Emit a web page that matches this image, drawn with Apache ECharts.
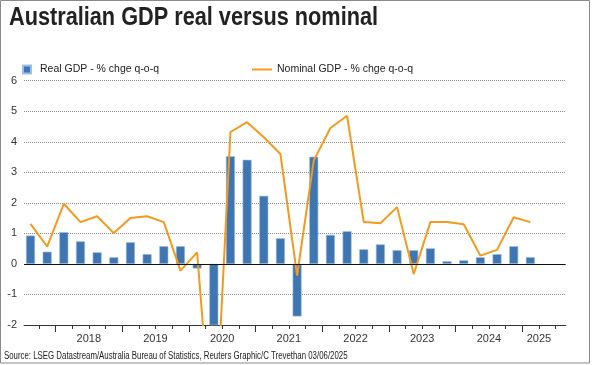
<!DOCTYPE html>
<html><head><meta charset="utf-8">
<script src="https://cdn.jsdelivr.net/npm/echarts@6/dist/echarts.min.js"></script>
<style>html,body{margin:0;padding:0;background:#fff}#c{width:595px;height:365px}</style>
</head><body><div id="c"></div>
<script>
// Quarterly categories (bars / line points)
const quarters = ['2017 Q3','2017 Q4','2018 Q1','2018 Q2','2018 Q3','2018 Q4','2019 Q1','2019 Q2','2019 Q3','2019 Q4',
  '2020 Q1','2020 Q2','2020 Q3','2020 Q4','2021 Q1','2021 Q2','2021 Q3','2021 Q4','2022 Q1','2022 Q2','2022 Q3','2022 Q4',
  '2023 Q1','2023 Q2','2023 Q3','2023 Q4','2024 Q1','2024 Q2','2024 Q3','2024 Q4','2025 Q1'];
// Real GDP - % chge q-o-q
const realGDP = [0.93,0.40,1.04,0.74,0.38,0.22,0.71,0.32,0.58,0.58,-0.15,-7.0,3.53,3.41,2.23,0.84,-1.72,3.51,0.95,1.07,0.48,0.64,0.45,0.45,0.51,0.09,0.12,0.22,0.32,0.58,0.22];
// Nominal GDP - % chge q-o-q
const nominalGDP = [1.31,0.57,1.97,1.37,1.56,1.01,1.50,1.56,1.37,-0.22,0.38,-6.5,4.32,4.64,4.15,3.60,-0.38,3.39,4.45,4.85,1.37,1.33,1.86,-0.33,1.37,1.37,1.30,0.27,0.46,1.53,1.37];
// Tick labels
const yearLabels = ['2018','2019','2020','2021','2022','2023','2024','2025'];
const firstYear = 2017, firstQuarter = 3;
const yMin = -2, yMax = 6, yStep = 1;

const seriesNames = ['Real GDP - % chge q-o-q', 'Nominal GDP - % chge q-o-q'];
const titleText = 'Australian GDP real versus nominal';
const sourceText = 'Source: LSEG Datastream/Australia Bureau of Statistics, Reuters Graphic/C Trevethan 03/06/2025';

// boundary categories between quarters (boundary k sits between quarter k and k+1)
const nB = quarters.length + 1;
const boundaryLabels = new Array(nB).fill('');
yearLabels.forEach(y => {
  const yr = +y;
  let k = (yr - firstYear) * 4 + (2 - firstQuarter);
  k = Math.min(k, quarters.length - 1);
  boundaryLabels[k] = y;
});
// boundaries that start a new year (between Q4 and Q1)
const yearStart = boundaryLabels.map((_, k) => {
  const q = quarters[k + 1];
  return !!(q && q.endsWith('Q1'));
});

const realData = realGDP.map((v, i) => [i, v]);
const nomData = nominalGDP.map((v, i) => [i, v]);

const sans = "'Liberation Sans',Arial,sans-serif";

const gTop = 80.7, gBottom = 40;
const chart = echarts.init(document.getElementById('c'));
chart.setOption({
  animation: false,
  backgroundColor: '#fff',
  legend: [
    { data: [seriesNames[0]], left: 22, top: 64, padding: 0, icon: 'rect', itemWidth: 8, itemHeight: 8,
      textStyle: { fontFamily: sans, fontSize: 10.5, color: '#222', padding: [0,0,0,4] }, selectedMode: false },
    { data: [seriesNames[1]], left: 252, top: 64, padding: 0, icon: 'rect', itemWidth: 20, itemHeight: 2,
      textStyle: { fontFamily: sans, fontSize: 10.5, color: '#222' }, selectedMode: false }
  ],
  grid: [
    { left: 24, right: 29.3, top: gTop, bottom: gBottom, outerBoundsMode: 'none' },
    { left: 38.8, width: 16.67 * quarters.length, top: gTop, bottom: gBottom, outerBoundsMode: 'none' }
  ],
  xAxis: [
    { type: 'value', gridIndex: 0, min: -0.39, max: 32.12, position: 'bottom',
      axisLine: { show: true, onZero: false, lineStyle: { color: '#333', width: 1 } },
      axisTick: { show: false }, axisLabel: { show: false }, splitLine: { show: false } },
    { type: 'category', gridIndex: 1, data: boundaryLabels, boundaryGap: false, position: 'bottom',
      axisLine: { show: false },
      axisTick: { show: true, interval: 0, length: 4, lineStyle: { color: '#333' } },
      axisLabel: { show: true, interval: 0, margin: 8, fontFamily: sans, fontSize: 11, color: '#333' },
      splitLine: { show: false } },
    { type: 'category', gridIndex: 1, data: boundaryLabels.map((_, k) => 'b' + k), boundaryGap: false, position: 'bottom',
      axisLine: { show: false },
      axisTick: { show: true, interval: (k) => yearStart[k], length: 7, lineStyle: { color: '#333' } },
      axisLabel: { show: false }, splitLine: { show: false } }
  ],
  yAxis: [
    { type: 'value', gridIndex: 0, min: yMin, max: yMax, interval: yStep,
      axisLine: { show: false }, axisTick: { show: false },
      axisLabel: { fontFamily: sans, fontSize: 11, color: '#333', margin: 7 },
      splitLine: { show: true, lineStyle: { color: '#8a8a8a', type: [1, 1], width: 1 } } },
    { type: 'value', gridIndex: 1, min: 0, max: 1, show: false }
  ],
  series: [
    { name: seriesNames[0], type: 'bar', xAxisIndex: 0, yAxisIndex: 0, data: realData, barWidth: 9,
      itemStyle: { color: '#3f76b2', borderColor: '#9cc0e4', borderWidth: 0.6 },
      clip: true,
      markLine: { silent: true, symbol: 'none', label: { show: false },
        lineStyle: { color: '#111', type: 'solid', width: 1 }, data: [{ yAxis: 0 }] } },
    { name: seriesNames[1], type: 'line', xAxisIndex: 0, yAxisIndex: 0, data: nomData,
      symbol: 'none', clip: true, lineStyle: { color: '#f39a1c', width: 2 }, itemStyle: { color: '#f39a1c' } }
  ],
  graphic: [
    { type: 'rect', shape: { x: 0.5, y: 0.5, width: 589, height: 362.5 },
      style: { fill: 'none', stroke: '#8a8a8a', lineWidth: 1 }, silent: true },
    { type: 'text', x: 9, y: 6, scaleX: 0.868, silent: true,
      style: { text: titleText, font: "bold 25px 'Liberation Sans',Arial,sans-serif", fill: '#222' } },
    { type: 'text', x: 4, y: 351, scaleX: 0.785, silent: true,
      style: { text: sourceText, font: "10px 'Liberation Sans',Arial,sans-serif", fill: '#222' } }
  ]
});
</script></body></html>
